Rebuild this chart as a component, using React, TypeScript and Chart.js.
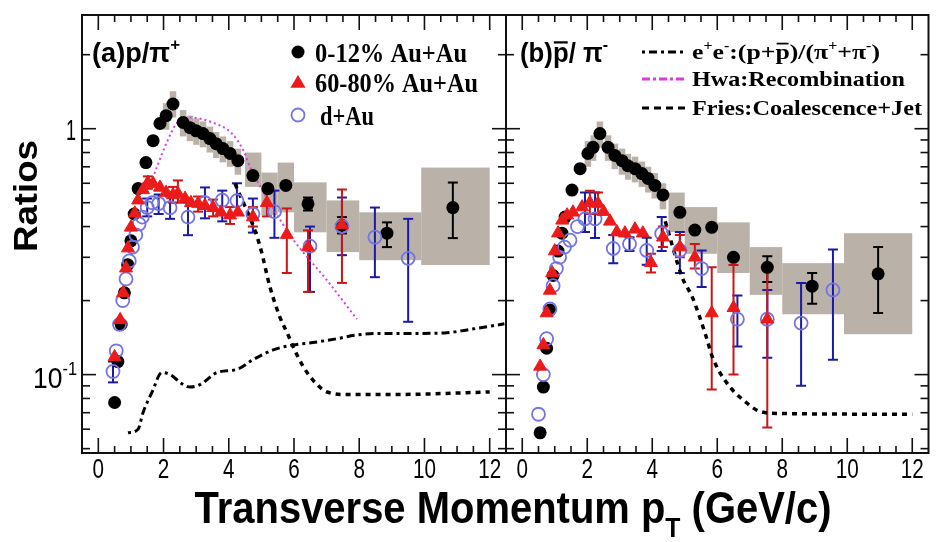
import React, { useEffect, useRef } from 'react';
import { Chart, registerables } from 'chart.js';

Chart.register(...registerables);

// ---------------- axis ranges & ticks ----------------
const X_MIN = -0.5;
const X_MAX = 12.5;
const Y_MIN = 0.048;
const Y_MAX = 2.9;
const xTickValues = [0, 2, 4, 6, 8, 10, 12];
const xTickLabels = ['0', '2', '4', '6', '8', '10', '12'];
const yMajorTicks = [0.1, 1];
const yMinorTicks = [0.05, 0.06, 0.07, 0.08, 0.09, 0.2, 0.3, 0.4, 0.5, 0.6, 0.7, 0.8, 0.9, 2];

// ---------------- panel (a): p / pi+ ----------------
const aBlackX = [0.5, 0.6, 0.7, 0.8, 0.9, 1.0, 1.1, 1.22, 1.46, 1.68, 1.89, 2.08, 2.29, 2.6, 2.81, 3.0, 3.21, 3.42, 3.61, 3.82, 4.04, 4.28, 4.74, 5.2, 5.75, 6.43, 7.47, 8.85, 10.87];
const aBlackY = [0.077, 0.113, 0.16, 0.215, 0.28, 0.35, 0.45, 0.571, 0.728, 0.894, 1.05, 1.13, 1.26, 1.06, 1.01, 0.98, 0.955, 0.912, 0.869, 0.83, 0.793, 0.741, 0.645, 0.571, 0.588, 0.495, 0.405, 0.376, 0.478];
const aBlackErrX = [6.43, 7.47, 8.85, 10.87];
const aBlackErrLo = [0.465, 0.375, 0.33, 0.359];
const aBlackErrHi = [0.525, 0.437, 0.416, 0.604];
// systematic boxes: x-from, x-to, y-from, y-to
const aBoxX0 = [1.98, 2.19, 2.5, 2.71, 2.91, 3.11, 3.32, 3.52, 3.72, 3.94, 4.18, 4.5, 5.0, 5.5, 6.0, 7.0, 8.0, 9.9];
const aBoxX1 = [2.18, 2.39, 2.7, 2.91, 3.1, 3.31, 3.52, 3.71, 3.92, 4.14, 4.38, 5.0, 5.5, 6.0, 7.0, 8.0, 9.9, 12.0];
const aBoxY0 = [0.99, 1.11, 0.93, 0.89, 0.86, 0.84, 0.8, 0.76, 0.73, 0.7, 0.65, 0.58, 0.445, 0.457, 0.379, 0.315, 0.292, 0.279];
const aBoxY1 = [1.27, 1.42, 1.19, 1.13, 1.1, 1.07, 1.02, 0.97, 0.93, 0.89, 0.83, 0.8, 0.663, 0.728, 0.605, 0.511, 0.457, 0.695];

const aRedX = [0.5, 0.67, 0.76, 0.85, 0.91, 1.0, 1.12, 1.22, 1.37, 1.52, 1.68, 1.89, 2.08, 2.29, 2.44, 2.66, 2.84, 3.06, 3.27, 3.52, 3.76, 4.04, 4.28, 4.74, 5.17, 5.78, 6.43, 7.47];
const aRedY = [0.118, 0.167, 0.215, 0.271, 0.327, 0.397, 0.453, 0.512, 0.564, 0.604, 0.598, 0.577, 0.55, 0.538, 0.545, 0.52, 0.5, 0.496, 0.486, 0.477, 0.457, 0.445, 0.457, 0.437, 0.5, 0.371, 0.33, 0.406];
const aRedErrX = [1.52, 2.29, 2.44, 3.06, 3.52, 4.04, 4.74, 5.17, 5.78, 6.43, 7.47];
const aRedErrLo = [0.57, 0.5, 0.5, 0.46, 0.44, 0.41, 0.4, 0.44, 0.259, 0.217, 0.236];
const aRedErrHi = [0.64, 0.58, 0.616, 0.53, 0.515, 0.48, 0.48, 0.56, 0.474, 0.386, 0.566];

const aBlueX = [0.45, 0.55, 0.65, 0.75, 0.85, 0.95, 1.05, 1.15, 1.25, 1.35, 1.5, 1.65, 1.85, 2.2, 2.75, 3.27, 3.8, 4.25, 4.74, 5.4, 6.49, 7.47, 8.48, 9.5];
const aBlueY = [0.103, 0.125, 0.16, 0.2, 0.245, 0.29, 0.33, 0.37, 0.41, 0.437, 0.478, 0.5, 0.496, 0.477, 0.437, 0.5, 0.512, 0.51, 0.45, 0.46, 0.333, 0.4, 0.362, 0.297];
const aBlueErrX = [0.45, 1.5, 1.85, 2.2, 2.75, 3.27, 3.8, 4.25, 4.74, 5.4, 6.49, 7.47, 8.48, 9.5];
const aBlueErrLo = [0.093, 0.44, 0.45, 0.43, 0.369, 0.432, 0.42, 0.45, 0.378, 0.36, 0.217, 0.306, 0.249, 0.164];
const aBlueErrHi = [0.113, 0.52, 0.54, 0.53, 0.5, 0.577, 0.56, 0.6, 0.52, 0.56, 0.4, 0.525, 0.478, 0.43];

// model curves in panel (a)
const eeX = [0.91, 1.22, 1.37, 1.65, 1.95, 2.26, 2.5, 2.81, 3.12, 3.64, 4.25, 4.74, 5.36, 5.97, 6.58, 7.32, 7.93, 8.64, 9.65, 10.69, 11.3, 12.1, 12.45];
const eeY = [0.058, 0.06, 0.07, 0.085, 0.102, 0.099, 0.093, 0.089, 0.091, 0.102, 0.105, 0.115, 0.126, 0.132, 0.135, 0.14, 0.145, 0.147, 0.147, 0.148, 0.152, 0.158, 0.161];
const hwaX = [1.5, 1.8, 2.1, 2.4, 2.8, 3.5, 4.1, 4.45, 4.65, 5.3, 5.97, 7.0, 7.93];
const hwaY = [0.55, 0.7, 0.88, 1.05, 1.11, 1.06, 0.955, 0.815, 0.7, 0.49, 0.355, 0.243, 0.168];
const friesAX = [4.19, 4.8, 4.99, 5.26, 5.57, 5.82, 5.97, 6.28, 6.58, 7.01, 7.62, 9.04, 12.0];
const friesAY = [0.598, 0.386, 0.321, 0.228, 0.171, 0.145, 0.13, 0.108, 0.095, 0.085, 0.083, 0.083, 0.085];

// ---------------- panel (b): pbar / pi- ----------------
const bBlackX = [0.55, 0.65, 0.75, 0.85, 0.95, 1.1, 1.22, 1.32, 1.53, 1.78, 2.02, 2.18, 2.39, 2.64, 2.85, 3.07, 3.25, 3.47, 3.68, 3.87, 4.08, 4.33, 4.85, 5.31, 5.83, 6.5, 7.54, 8.92, 10.95];
const bBlackY = [0.058, 0.089, 0.128, 0.183, 0.253, 0.318, 0.376, 0.437, 0.563, 0.688, 0.793, 0.84, 0.955, 0.84, 0.778, 0.741, 0.707, 0.688, 0.657, 0.628, 0.588, 0.538, 0.457, 0.387, 0.397, 0.3, 0.273, 0.229, 0.257];
const bBlackErrX = [7.54, 8.92, 10.95];
const bBlackErrLo = [0.238, 0.194, 0.178];
const bBlackErrHi = [0.303, 0.259, 0.33];
const bBoxX0 = [1.92, 2.1, 2.29, 2.54, 2.75, 2.97, 3.16, 3.37, 3.58, 3.78, 3.98, 4.23, 4.5, 5.0, 5.5, 6.0, 7.0, 8.0, 9.9];
const bBoxX1 = [2.12, 2.28, 2.49, 2.74, 2.95, 3.17, 3.35, 3.57, 3.78, 3.97, 4.18, 4.43, 5.0, 5.5, 6.0, 7.0, 8.0, 9.9, 12.0];
const bBoxY0 = [0.7, 0.74, 0.84, 0.74, 0.685, 0.65, 0.62, 0.605, 0.58, 0.55, 0.52, 0.47, 0.38, 0.31, 0.31, 0.259, 0.211, 0.176, 0.146];
const bBoxY1 = [0.89, 0.94, 1.07, 0.94, 0.87, 0.83, 0.79, 0.77, 0.735, 0.7, 0.66, 0.6, 0.55, 0.48, 0.48, 0.416, 0.33, 0.284, 0.376];

const bRedX = [0.55, 0.65, 0.75, 0.85, 0.92, 1.0, 1.1, 1.23, 1.38, 1.56, 1.84, 2.08, 2.33, 2.5, 2.7, 2.91, 3.16, 3.47, 3.71, 3.96, 4.33, 4.85, 5.31, 5.83, 6.5, 7.54];
const bRedY = [0.108, 0.132, 0.178, 0.22, 0.259, 0.318, 0.376, 0.424, 0.445, 0.457, 0.48, 0.5, 0.496, 0.46, 0.42, 0.38, 0.376, 0.39, 0.376, 0.285, 0.362, 0.33, 0.3, 0.178, 0.187, 0.168];
const bRedErrX = [2.08, 2.33, 3.96, 4.33, 4.85, 5.31, 5.83, 6.5, 7.54];
const bRedErrLo = [0.45, 0.45, 0.26, 0.33, 0.3, 0.27, 0.087, 0.1, 0.061];
const bRedErrHi = [0.56, 0.55, 0.31, 0.4, 0.37, 0.34, 0.273, 0.279, 0.27];

const bBlueX = [0.5, 0.65, 0.75, 0.85, 0.95, 1.05, 1.15, 1.3, 1.47, 1.7, 1.93, 2.24, 2.8, 3.3, 3.83, 4.29, 4.85, 5.52, 6.62, 7.54, 8.58, 9.56];
const bBlueY = [0.069, 0.1, 0.14, 0.185, 0.23, 0.27, 0.3, 0.33, 0.352, 0.4, 0.43, 0.43, 0.326, 0.34, 0.32, 0.375, 0.32, 0.27, 0.168, 0.168, 0.162, 0.221];
const bBlueErrX = [1.93, 2.24, 2.8, 3.3, 3.83, 4.29, 4.85, 5.52, 6.62, 7.54, 8.58, 9.56];
const bBlueErrLo = [0.38, 0.359, 0.284, 0.318, 0.28, 0.318, 0.259, 0.227, 0.13, 0.117, 0.09, 0.115];
const bBlueErrHi = [0.55, 0.55, 0.37, 0.362, 0.36, 0.437, 0.38, 0.32, 0.21, 0.221, 0.236, 0.323];

const friesBX = [4.4, 4.93, 5.23, 5.66, 5.85, 6.28, 6.89, 7.29, 7.9, 12.0];
const friesBY = [0.42, 0.247, 0.207, 0.1425, 0.118, 0.093, 0.077, 0.071, 0.0695, 0.069];

// ---------------- styling ----------------
const RED = '#ec1b1b';
const RED_ERR = '#cc1414';
const BLUE = '#7474e4';
const BLUE_ERR = '#1a1aa6';
const BOX_GRAY = '#bab2a8';
const MAGENTA = '#dd3cdd';
const SANS = '"Liberation Sans", Arial, Helvetica, sans-serif';
const SERIF = '"Liberation Serif", "Times New Roman", serif';

const EE_DASH = [3, 4, 8, 4];
const FRIES_DASH = [5, 5];
const HWA_DASH = [2, 3];

type Seg = { t: string; k?: 'sup' | 'sub' | 'bar' };

function segFont(size: number, family: string, weight: string, k?: string) {
  const s = k === 'sup' || k === 'sub' ? size * 0.62 : size;
  return `${weight} ${s}px ${family}`;
}

// Draws a run of text pieces (with super/subscripts and overlines),
// optionally squeezed or stretched to a given overall width.
function rich(
  ctx: CanvasRenderingContext2D,
  segs: Seg[],
  x: number,
  y: number,
  size: number,
  family: string,
  weight: string,
  opt: { align?: 'left' | 'center' | 'right'; width?: number; rotate?: number; color?: string } = {}
) {
  ctx.save();
  const widths = segs.map((s) => {
    ctx.font = segFont(size, family, weight, s.k);
    return ctx.measureText(s.t).width;
  });
  const total = widths.reduce((a, b) => a + b, 0);
  const sx = opt.width ? opt.width / total : 1;
  ctx.translate(x, y);
  if (opt.rotate) ctx.rotate(opt.rotate);
  ctx.scale(sx, 1);
  let cx = opt.align === 'center' ? -total / 2 : opt.align === 'right' ? -total : 0;
  ctx.fillStyle = opt.color || '#000';
  ctx.strokeStyle = opt.color || '#000';
  ctx.textBaseline = 'alphabetic';
  ctx.textAlign = 'left';
  segs.forEach((s, i) => {
    ctx.font = segFont(size, family, weight, s.k);
    let dy = 0;
    if (s.k === 'sup') dy = -size * 0.42;
    if (s.k === 'sub') dy = size * 0.32;
    ctx.fillText(s.t, cx, dy);
    if (s.k === 'bar') {
      ctx.lineWidth = Math.max(1.5, size * 0.08);
      ctx.beginPath();
      ctx.moveTo(cx + 1, -size * 0.7);
      ctx.lineTo(cx + widths[i] - 1, -size * 0.7);
      ctx.stroke();
    }
    cx += widths[i];
  });
  ctx.restore();
}

function drawCircle(ctx: CanvasRenderingContext2D, x: number, y: number, r: number, fill: string | null, stroke: string | null, lw = 1.8) {
  ctx.beginPath();
  ctx.arc(x, y, r, 0, Math.PI * 2);
  if (fill) {
    ctx.fillStyle = fill;
    ctx.fill();
  }
  if (stroke) {
    ctx.lineWidth = lw;
    ctx.strokeStyle = stroke;
    ctx.stroke();
  }
}

function drawTriangle(ctx: CanvasRenderingContext2D, x: number, y: number, r: number, color: string) {
  ctx.beginPath();
  ctx.moveTo(x, y - r);
  ctx.lineTo(x + r * 0.95, y + r * 0.6);
  ctx.lineTo(x - r * 0.95, y + r * 0.6);
  ctx.closePath();
  ctx.fillStyle = color;
  ctx.fill();
}

function line(ctx: CanvasRenderingContext2D, x1: number, y1: number, x2: number, y2: number) {
  ctx.beginPath();
  ctx.moveTo(x1, y1);
  ctx.lineTo(x2, y2);
  ctx.stroke();
}

const pts = (xs: number[], ys: number[]) => xs.map((x, i) => ({ x, y: ys[i] }));

type ErrSet = { xs: number[]; lo: number[]; hi: number[]; color: string };
type BoxSet = { x0: number[]; x1: number[]; y0: number[]; y1: number[] };

// Systematic boxes and error bars, placed through the chart's own scales.
const uncertaintyPlugin = {
  id: 'uncertainty',
  beforeDatasetsDraw(chart: any, _args: any, opts: any) {
    const { ctx, chartArea, scales } = chart;
    const xs = scales.x;
    const ys = scales.y;
    ctx.save();
    ctx.beginPath();
    ctx.rect(chartArea.left, chartArea.top, chartArea.right - chartArea.left, chartArea.bottom - chartArea.top);
    ctx.clip();
    const boxes: BoxSet = opts.boxes;
    ctx.fillStyle = BOX_GRAY;
    boxes.x0.forEach((_, i) => {
      const l = xs.getPixelForValue(boxes.x0[i]);
      const r = xs.getPixelForValue(boxes.x1[i]);
      const t = ys.getPixelForValue(boxes.y1[i]);
      const b = ys.getPixelForValue(boxes.y0[i]);
      ctx.fillRect(l, t, r - l, b - t);
    });
    (opts.errors as ErrSet[]).forEach((e) => {
      ctx.strokeStyle = e.color;
      ctx.lineWidth = 2;
      e.xs.forEach((x, i) => {
        const px = xs.getPixelForValue(x);
        const pLo = ys.getPixelForValue(e.lo[i]);
        const pHi = ys.getPixelForValue(e.hi[i]);
        line(ctx, px, pLo, px, pHi);
        line(ctx, px - 5, pLo, px + 5, pLo);
        line(ctx, px - 5, pHi, px + 5, pHi);
      });
    });
    ctx.restore();
  },
};

// Frame with inward ticks on all four sides, tick labels and annotations.
const framePlugin = {
  id: 'frame',
  afterDraw(chart: any, _args: any, opts: any) {
    const { ctx, chartArea, scales } = chart;
    const { left, right, top, bottom } = chartArea;
    const xs = scales.x;
    const ys = scales.y;
    ctx.save();
    ctx.strokeStyle = '#111';
    ctx.lineWidth = 2;
    ctx.strokeRect(left, top, right - left, bottom - top);
    ctx.lineWidth = 1.6;
    for (let v = 0; v <= 12.001; v += 0.5) {
      const px = xs.getPixelForValue(v);
      const len = Math.abs(v % 2) < 1e-6 ? 15 : 7;
      line(ctx, px, bottom, px, bottom - len);
      line(ctx, px, top, px, top + len);
    }
    yMajorTicks.forEach((v) => {
      const py = ys.getPixelForValue(v);
      line(ctx, left, py, left + 14, py);
      line(ctx, right, py, right - 14, py);
    });
    yMinorTicks.forEach((v) => {
      const py = ys.getPixelForValue(v);
      line(ctx, left, py, left + 8, py);
      line(ctx, right, py, right - 8, py);
    });

    // x tick labels
    xTickValues.forEach((v, i) => {
      rich(ctx, [{ t: xTickLabels[i] }], xs.getPixelForValue(v), 478, 28, SANS, 'normal', {
        align: 'center',
        width: xTickLabels[i].length * 11.5,
      });
    });

    if (opts.panel === 'a') {
      // y tick labels
      rich(ctx, [{ t: '1' }], left - 6, ys.getPixelForValue(1) + 11, 30, SANS, 'normal', { align: 'right', width: 10 });
      rich(ctx, [{ t: '10' }, { t: '-1', k: 'sup' }], left - 5, ys.getPixelForValue(0.1) + 13, 30, SANS, 'normal', {
        align: 'right',
        width: 44,
      });
      // axis titles
      rich(ctx, [{ t: 'Ratios' }], 37, 196, 34, SANS, 'bold', { align: 'center', width: 112, rotate: -Math.PI / 2 });
      rich(
        ctx,
        [{ t: 'Transverse Momentum p' }, { t: 'T', k: 'sub' }, { t: ' (GeV/c)' }],
        513,
        523,
        44,
        SANS,
        'bold',
        { align: 'center', width: 637 }
      );
      // panel label
      rich(ctx, [{ t: '(a)p/π' }, { t: '+', k: 'sup' }], 92, 62, 28, SANS, 'bold', { width: 88 });
      // legend
      drawCircle(ctx, 298, 52, 6.5, '#000', null);
      drawTriangle(ctx, 298, 83, 8, RED);
      drawCircle(ctx, 298, 115, 6.5, null, BLUE);
      rich(ctx, [{ t: '0-12% Au+Au' }], 315, 62, 28, SERIF, 'bold', { width: 152 });
      rich(ctx, [{ t: '60-80% Au+Au' }], 315, 92, 28, SERIF, 'bold', { width: 163 });
      rich(ctx, [{ t: 'd+Au' }], 320, 125, 28, SERIF, 'bold', { width: 54 });
    } else {
      rich(ctx, [{ t: '(b)' }, { t: 'p', k: 'bar' }, { t: '/ π' }, { t: '-', k: 'sup' }], 520, 62, 28, SANS, 'bold', {
        width: 88,
      });
      // legend samples
      ctx.lineWidth = 3;
      ctx.strokeStyle = '#000';
      ctx.setLineDash(EE_DASH);
      line(ctx, 642, 52, 687, 52);
      ctx.strokeStyle = MAGENTA;
      ctx.setLineDash([8, 3, 3, 3]);
      line(ctx, 642, 79, 687, 79);
      ctx.strokeStyle = '#000';
      ctx.setLineDash([7, 5]);
      line(ctx, 642, 108, 687, 108);
      ctx.setLineDash([]);
      rich(
        ctx,
        [
          { t: 'e' },
          { t: '+', k: 'sup' },
          { t: 'e' },
          { t: '-', k: 'sup' },
          { t: ':(p+' },
          { t: 'p', k: 'bar' },
          { t: ')/(π' },
          { t: '+', k: 'sup' },
          { t: '+π' },
          { t: '-', k: 'sup' },
          { t: ')' },
        ],
        692,
        59,
        22,
        SERIF,
        'bold',
        { width: 188 }
      );
      rich(ctx, [{ t: 'Hwa:Recombination' }], 692, 86, 22, SERIF, 'bold', { width: 213 });
      rich(ctx, [{ t: 'Fries:Coalescence+Jet' }], 692, 115, 22, SERIF, 'bold', { width: 230 });
    }
    ctx.restore();
  },
};

function curve(xs: number[], ys: number[], color: string, width: number, dash: number[]) {
  return {
    data: pts(xs, ys),
    showLine: true,
    borderColor: color,
    borderWidth: width,
    borderDash: dash,
    pointRadius: 0,
    fill: false,
    cubicInterpolationMode: 'monotone',
    order: 5,
  };
}

function markers(kind: 'black' | 'red' | 'blue', xs: number[], ys: number[]) {
  if (kind === 'black')
    return { data: pts(xs, ys), pointStyle: 'circle', pointRadius: 6.5, backgroundColor: '#000', borderColor: '#000', borderWidth: 0, order: 3 };
  if (kind === 'red')
    return { data: pts(xs, ys), pointStyle: 'triangle', pointRadius: 7.5, backgroundColor: RED, borderColor: RED, borderWidth: 1, order: 1 };
  return { data: pts(xs, ys), pointStyle: 'circle', pointRadius: 6.5, backgroundColor: 'rgba(255,255,255,0)', borderColor: BLUE, borderWidth: 1.8, order: 2 };
}

function buildConfig(panel: 'a' | 'b'): any {
  const isA = panel === 'a';
  const datasets: any[] = isA
    ? [
        markers('red', aRedX, aRedY),
        markers('blue', aBlueX, aBlueY),
        markers('black', aBlackX, aBlackY),
        curve(eeX, eeY, '#000', 3, EE_DASH),
        curve(hwaX, hwaY, MAGENTA, 2, HWA_DASH),
        curve(friesAX, friesAY, '#000', 3.5, FRIES_DASH),
      ]
    : [
        markers('red', bRedX, bRedY),
        markers('blue', bBlueX, bBlueY),
        markers('black', bBlackX, bBlackY),
        curve(friesBX, friesBY, '#000', 3.5, FRIES_DASH),
      ];
  const boxes: BoxSet = isA
    ? { x0: aBoxX0, x1: aBoxX1, y0: aBoxY0, y1: aBoxY1 }
    : { x0: bBoxX0, x1: bBoxX1, y0: bBoxY0, y1: bBoxY1 };
  const errors: ErrSet[] = isA
    ? [
        { xs: aBlackErrX, lo: aBlackErrLo, hi: aBlackErrHi, color: '#000' },
        { xs: aBlueErrX, lo: aBlueErrLo, hi: aBlueErrHi, color: BLUE_ERR },
        { xs: aRedErrX, lo: aRedErrLo, hi: aRedErrHi, color: RED_ERR },
      ]
    : [
        { xs: bBlackErrX, lo: bBlackErrLo, hi: bBlackErrHi, color: '#000' },
        { xs: bBlueErrX, lo: bBlueErrLo, hi: bBlueErrHi, color: BLUE_ERR },
        { xs: bRedErrX, lo: bRedErrLo, hi: bRedErrHi, color: RED_ERR },
      ];
  return {
    type: 'scatter',
    data: { datasets },
    options: {
      responsive: false,
      animation: false,
      devicePixelRatio: 1,
      events: [],
      layout: { padding: isA ? { left: 82, right: 431, top: 15, bottom: 89 } : { left: 506, right: 7, top: 15, bottom: 89 } },
      scales: {
        x: { type: 'linear', min: X_MIN, max: X_MAX, display: false },
        y: { type: 'logarithmic', min: Y_MIN, max: Y_MAX, display: false },
      },
      plugins: {
        legend: { display: false },
        tooltip: { enabled: false },
        uncertainty: { boxes, errors },
        frame: { panel },
      },
    },
    plugins: [uncertaintyPlugin, framePlugin],
  };
}

export default function App() {
  const refA = useRef<HTMLCanvasElement>(null);
  const refB = useRef<HTMLCanvasElement>(null);
  useEffect(() => {
    const chartA = new Chart(refA.current as HTMLCanvasElement, buildConfig('a'));
    const chartB = new Chart(refB.current as HTMLCanvasElement, buildConfig('b'));
    return () => {
      chartA.destroy();
      chartB.destroy();
    };
  }, []);
  const canvasStyle: React.CSSProperties = { position: 'absolute', left: 0, top: 0, width: 937, height: 542 };
  return (
    <div style={{ position: 'fixed', left: 0, top: 0, width: 937, height: 542, background: '#fff', overflow: 'hidden' }}>
      <canvas ref={refA} width={937} height={542} style={canvasStyle} />
      <canvas ref={refB} width={937} height={542} style={canvasStyle} />
    </div>
  );
}
